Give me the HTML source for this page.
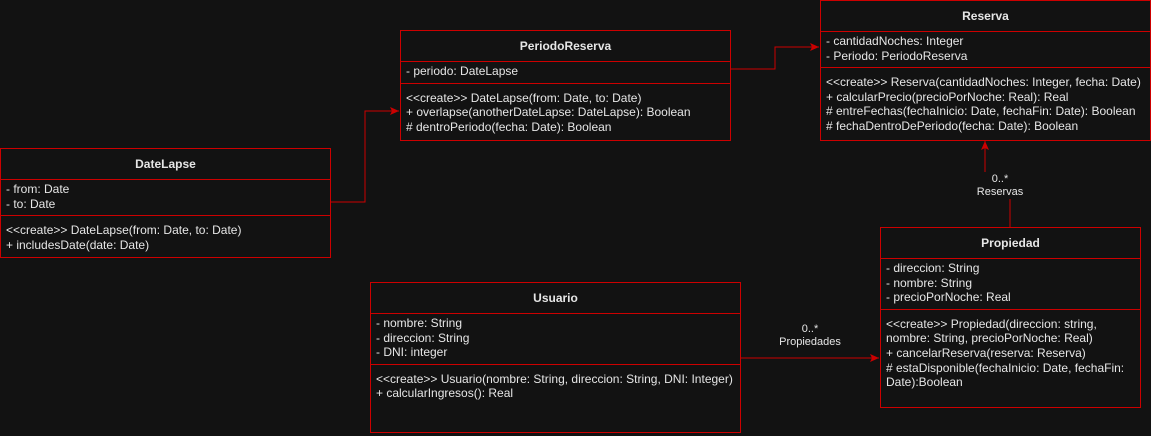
<!DOCTYPE html>
<html><head><meta charset="utf-8"><style>
body{margin:0;width:1151px;height:436px;background:#121212;font-family:"Liberation Sans",sans-serif;font-size:12px;color:#e6e6e6;position:relative;overflow:hidden}
.b{position:absolute;border:1px solid #c00;box-sizing:border-box}
.h{height:30px;line-height:30px;text-align:center;font-weight:bold;border-bottom:1px solid #c00}
.s{padding:2px 5px 4px;line-height:14.6px;border-bottom:1px solid #c00;white-space:nowrap}
.s:last-child{border-bottom:none;padding-top:7px}
svg{position:absolute;left:0;top:0}
.l{position:absolute;font-size:11px;text-align:center;line-height:13px;background:#121212}
</style></head><body>
<svg width="1151" height="436">
<defs><marker id="a" markerWidth="10" markerHeight="10" refX="9" refY="5" orient="auto" markerUnits="userSpaceOnUse"><path d="M0,1 L9,5 L0,9 L2,5 Z" fill="#c00"/></marker></defs>
<g stroke="#c00" fill="none" stroke-width="1">
<path d="M330,202 H365 V111 H399" marker-end="url(#a)"/>
<path d="M730,69 H775 V47 H819" marker-end="url(#a)"/>
<path d="M985,172 V141" marker-end="url(#a)"/>
<path d="M1010,198 V227"/>
<path d="M740,358 H879" marker-end="url(#a)"/>
</g></svg>
<div class="l" style="left:975px;top:173px;width:50px">0..*<br>Reservas</div>
<div class="l" style="left:775px;top:323px;width:70px">0..*<br>Propiedades</div>

<div class="b" style="left:820px;top:0;width:331px;height:141px">
<div class="h">Reserva</div>
<div class="s">- cantidadNoches: Integer<br>- Periodo: PeriodoReserva</div>
<div class="s">&lt;&lt;create&gt;&gt; Reserva(cantidadNoches: Integer, fecha: Date)<br>+ calcularPrecio(precioPorNoche: Real): Real<br># entreFechas(fechaInicio: Date, fechaFin: Date): Boolean<br># fechaDentroDePeriodo(fecha: Date): Boolean</div>
</div>
<div class="b" style="left:400px;top:30px;width:331px;height:111px">
<div class="h">PeriodoReserva</div>
<div class="s">- periodo: DateLapse</div>
<div class="s">&lt;&lt;create&gt;&gt; DateLapse(from: Date, to: Date)<br>+ overlapse(anotherDateLapse: DateLapse): Boolean<br># dentroPeriodo(fecha: Date): Boolean</div>
</div>
<div class="b" style="left:0;top:148px;width:331px;height:110px">
<div class="h">DateLapse</div>
<div class="s">- from: Date<br>- to: Date</div>
<div class="s">&lt;&lt;create&gt;&gt; DateLapse(from: Date, to: Date)<br>+ includesDate(date: Date)</div>
</div>
<div class="b" style="left:880px;top:227px;width:261px;height:181px">
<div class="h">Propiedad</div>
<div class="s">- direccion: String<br>- nombre: String<br>- precioPorNoche: Real</div>
<div class="s" style="white-space:normal">&lt;&lt;create&gt;&gt; Propiedad(direccion: string, nombre: String, precioPorNoche: Real)<br>+ cancelarReserva(reserva: Reserva)<br># estaDisponible(fechaInicio: Date, fechaFin: Date):Boolean</div>
</div>
<div class="b" style="left:370px;top:282px;width:371px;height:151px">
<div class="h">Usuario</div>
<div class="s">- nombre: String<br>- direccion: String<br>- DNI: integer</div>
<div class="s">&lt;&lt;create&gt;&gt; Usuario(nombre: String, direccion: String, DNI: Integer)<br>+ calcularIngresos(): Real</div>
</div>
</body></html>
